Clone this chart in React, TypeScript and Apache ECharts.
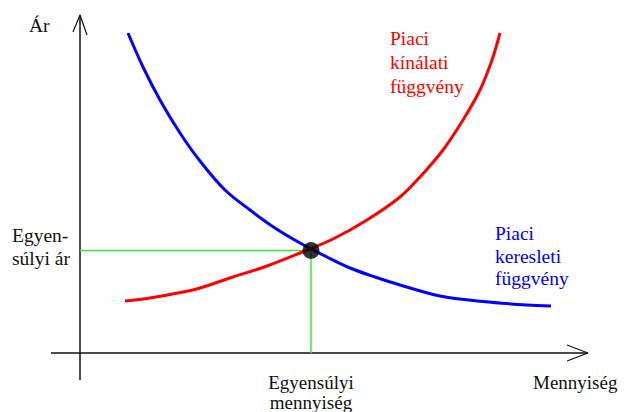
import React, { useEffect, useRef } from "react";
import * as echarts from "echarts";

// Coordinates in chart units: origin at axes intersection, 1 unit ≈ 1 px
const demandCurve: [number, number][] = [
  [48, 320], [63, 286], [80, 253], [100, 220], [120, 192], [145, 163], [170, 143],
  [195, 125], [220, 110], [247, 96], [270, 85], [295, 76], [320, 68], [360, 57],
  [403, 51.5], [447, 48], [471, 47],
];
const supplyCurve: [number, number][] = [
  [45, 52], [70, 55], [103, 61], [120, 65], [153, 76], [187, 87], [220, 100],
  [253, 114], [287, 133], [320, 156], [340, 176], [363, 203], [383, 233],
  [400, 263], [412, 293], [420, 320],
];
const equilibrium: [number, number] = [231, 102.5];
const yAxisLine: [number, number][] = [[0, -27], [0, 338]];
const yAxisArrow: [number, number][] = [[-7, 321], [0, 338], [7, 318]];
const xAxisLine: [number, number][] = [[-29, 0], [508, 0]];
const xAxisArrow: [number, number][] = [[487, 8], [508, 0], [487, -8]];

const FONT = "'Liberation Serif', 'Times New Roman', serif";
const FS = 19.5;

function txt(text: string, x: number, y: number, fill: string, align = "left", fs = FS) {
  return {
    type: "text",
    x,
    y,
    style: { text, fill, font: `${fs}px ${FONT}`, align, verticalAlign: "middle" },
  };
}

export default function App() {
  const ref = useRef<HTMLDivElement>(null);
  useEffect(() => {
    const chart = echarts.init(ref.current!, null, { renderer: "svg" });
    const axisColor = "#111";
    const lineSeries = (data: [number, number][], color: string, width: number) => ({
      type: "line",
      data,
      symbol: "none",
      lineStyle: { color, width },
      z: 2,
    });
    const curve = (data: [number, number][], color: string) => ({
      ...lineSeries(data, color, 3),
      smooth: 0.35,
    });
    chart.setOption({
      animation: false,
      backgroundColor: "#fff",
      grid: { left: 0, right: 0, top: 0, bottom: 0 },
      xAxis: { type: "value", min: -80, max: 544, show: false },
      yAxis: { type: "value", min: -59, max: 353, show: false },
      series: [
        lineSeries(yAxisLine, axisColor, 1.5),
        lineSeries(yAxisArrow, axisColor, 1.2),
        lineSeries(xAxisLine, axisColor, 1.5),
        lineSeries(xAxisArrow, axisColor, 1.2),
        lineSeries([[0, equilibrium[1]], equilibrium, [equilibrium[0], 0]], "#33ee33", 1.5),
        curve(demandCurve, "#0000ff"),
        curve(supplyCurve, "#ff0000"),
        {
          type: "scatter",
          data: [equilibrium],
          symbolSize: 17,
          itemStyle: { color: "#000" },
          z: 5,
        },
      ],
      graphic: [
        txt("Ár", 29, 25.5, "#111"),
        txt("Egyen-", 12, 235.5, "#111"),
        txt("súlyi ár", 12, 258.5, "#111"),
        txt("Piaci", 390, 38.5, "#ff0000"),
        txt("kínálati", 390, 62.5, "#ff0000"),
        txt("függvény", 390, 86.5, "#ff0000"),
        txt("Piaci", 495, 233.5, "#0000ff"),
        txt("keresleti", 495, 256, "#0000ff"),
        txt("függvény", 495, 278.5, "#0000ff"),
        txt("Egyensúlyi", 311, 382, "#111", "center", 19),
        txt("mennyiség", 311, 402, "#111", "center", 19),
        txt("Mennyiség", 533, 382, "#111", "left", 19),
      ],
    });
    return () => chart.dispose();
  }, []);
  return (
    <div
      ref={ref}
      style={{ position: "absolute", left: 0, top: 0, width: 624, height: 412 }}
    />
  );
}
